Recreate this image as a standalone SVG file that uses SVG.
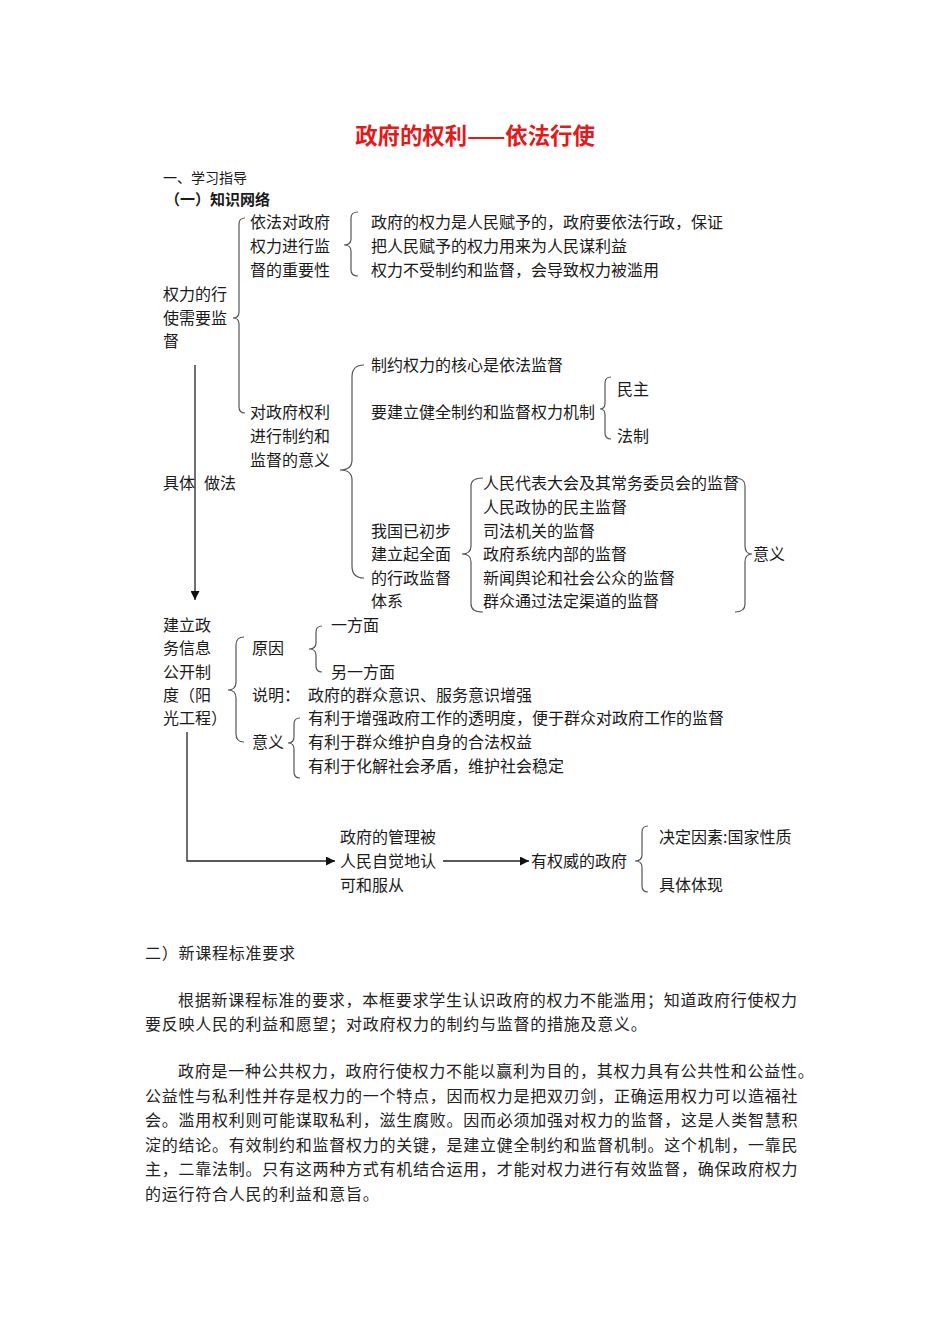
<svg xmlns="http://www.w3.org/2000/svg" width="950" height="1344" viewBox="0 0 950 1344">
<defs>
<marker id="arr" viewBox="0 0 10 10" refX="10" refY="5" markerWidth="9" markerHeight="9" markerUnits="userSpaceOnUse" orient="auto">
<path d="M0,0 L10,5 L0,10 z" fill="#111"/>
</marker>
</defs>
<style>
text{font-family:"Noto Sans CJK SC","Noto Sans CJK JP",sans-serif;fill:#1a1a1a}
.t{font-size:16px}
.p{font-size:16px;letter-spacing:0.75px;fill:#222}
.br{fill:none;stroke:#555;stroke-width:1.2}
.ln{fill:none;stroke:#222;stroke-width:1.3}
</style>
<rect width="950" height="1344" fill="#fff"/>
<g id="title"><text x="475" y="144" font-size="22.4" font-weight="bold" style="fill:#e31a1c" text-anchor="middle">政府的权利——依法行使</text></g>
<g id="heading1"><text x="163" y="183" font-size="14">一、学习指导</text></g>
<g id="heading2"><text x="165" y="205" font-size="15" font-weight="bold">（一）知识网络</text></g>

<g id="n-root">
<text class="t" x="163" y="300">权力的行</text>
<text class="t" x="163" y="324">使需要监</text>
<text class="t" x="163" y="347">督</text>
<path class="br" d="M245 218 Q239 218 239 224 L239 312 Q239 318 233 318 Q239 318 239 324 L239 407 Q239 413 245 413"/>
</g>
<g id="n-importance">
<text class="t" x="250" y="228">依法对政府</text>
<text class="t" x="250" y="252">权力进行监</text>
<text class="t" x="250" y="276">督的重要性</text>
<path class="br" d="M358 212 Q351 212 351 218 L351 239 Q351 245 344 245 Q351 245 351 251 L351 270 Q351 276 358 276"/>
</g>
<g id="n-importance-items">
<text class="t" x="371" y="228">政府的权力是人民赋予的，政府要依法行政，保证</text>
<text class="t" x="371" y="252">把人民赋予的权力用来为人民谋利益</text>
<text class="t" x="371" y="276">权力不受制约和监督，会导致权力被滥用</text>
</g>
<g id="n-meaning">
<text class="t" x="250" y="418">对政府权利</text>
<text class="t" x="250" y="442">进行制约和</text>
<text class="t" x="250" y="466">监督的意义</text>
<path class="br" d="M364 365 Q352 365 352 377 L352 460 Q352 470 340 470 Q352 470 352 480 L352 566 Q352 578 364 578"/>
</g>
<g id="n-core"><text class="t" x="371" y="371">制约权力的核心是依法监督</text></g>
<g id="n-mechanism">
<text class="t" x="371" y="418">要建立健全制约和监督权力机制</text>
<path class="br" d="M611 377 Q605 377 605 383 L605 403 Q605 409 600 409 Q605 409 605 415 L605 433 Q605 439 611 439"/>
<text class="t" x="617" y="395">民主</text>
<text class="t" x="617" y="442">法制</text>
</g>
<g id="n-practice">
<text class="t" x="163" y="489">具体</text>
<text class="t" x="204" y="489">做法</text>
</g>
<g id="n-system">
<text class="t" x="371" y="537">我国已初步</text>
<text class="t" x="371" y="560">建立起全面</text>
<text class="t" x="371" y="584">的行政监督</text>
<text class="t" x="371" y="607">体系</text>
<path class="br" d="M483 478 Q471 478 471 486 L471 546 Q471 554 462 554 Q471 554 471 562 L471 604 Q471 612 483 612"/>
</g>
<g id="n-system-items">
<text class="t" x="483" y="489">人民代表大会及其常务委员会的监督</text>
<text class="t" x="483" y="513">人民政协的民主监督</text>
<text class="t" x="483" y="537">司法机关的监督</text>
<text class="t" x="483" y="560">政府系统内部的监督</text>
<text class="t" x="483" y="584">新闻舆论和社会公众的监督</text>
<text class="t" x="483" y="607">群众通过法定渠道的监督</text>
<path class="br" d="M735 478 Q745 478 745 486 L745 546 Q745 554 752 554 Q745 554 745 562 L745 604 Q745 612 735 612"/>
</g>
<g id="n-system-meaning"><text class="t" x="753" y="560">意义</text></g>

<g id="n-openness">
<text class="t" x="163" y="631">建立政</text>
<text class="t" x="163" y="654">务信息</text>
<text class="t" x="163" y="678">公开制</text>
<text class="t" x="163" y="701">度（阳</text>
<text class="t" x="163" y="724">光工程）</text>
<path class="br" d="M244 637 Q236 637 236 645 L236 682 Q236 690 228 690 Q236 690 236 698 L236 734 Q236 742 244 742"/>
</g>
<g id="n-reason">
<text class="t" x="252" y="654">原因</text>
<path class="br" d="M322 626 Q316 626 316 632 L316 643 Q316 649 309 649 Q316 649 316 655 L316 666 Q316 672 322 672"/>
<text class="t" x="331" y="631">一方面</text>
<text class="t" x="331" y="678">另一方面</text>
</g>
<g id="n-explain">
<text class="t" x="252" y="701">说明：</text>
<text class="t" x="308" y="701">政府的群众意识、服务意识增强</text>
</g>
<g id="n-open-meaning">
<text class="t" x="252" y="748">意义</text>
<path class="br" d="M300 718 Q294 718 294 724 L294 737 Q294 743 288 743 Q294 743 294 749 L294 772 Q294 778 300 778"/>
<text class="t" x="308" y="724">有利于增强政府工作的透明度，便于群众对政府工作的监督</text>
<text class="t" x="308" y="748">有利于群众维护自身的合法权益</text>
<text class="t" x="308" y="772">有利于化解社会矛盾，维护社会稳定</text>
</g>
<g id="n-accept">
<text class="t" x="340" y="843">政府的管理被</text>
<text class="t" x="340" y="867">人民自觉地认</text>
<text class="t" x="340" y="891">可和服从</text>
</g>
<g id="n-authority">
<text class="t" x="531" y="867">有权威的政府</text>
<path class="br" d="M648 826 Q642 826 642 832 L642 855 Q642 861 635 861 Q642 861 642 867 L642 886 Q642 892 648 892"/>
<text class="t" x="659" y="843">决定因素:国家性质</text>
<text class="t" x="659" y="891">具体体现</text>
</g>

<g id="connectors">
<path class="ln" d="M195 365 V600" marker-end="url(#arr)"/>
<path class="ln" d="M187 732 V861 H335" marker-end="url(#arr)"/>
<path class="ln" d="M443 861 H529" marker-end="url(#arr)"/>
</g>

<g id="body">
<text class="p" x="145" y="959">二）新课程标准要求</text>
<text class="p" x="178" y="1006">根据新课程标准的要求，本框要求学生认识政府的权力不能滥用；知道政府行使权力</text>
<text class="p" x="145" y="1030">要反映人民的利益和愿望；对政府权力的制约与监督的措施及意义。</text>
<text class="p" x="178" y="1077">政府是一种公共权力，政府行使权力不能以赢利为目的，其权力具有公共性和公益性。</text>
<text class="p" x="145" y="1102">公益性与私利性并存是权力的一个特点，因而权力是把双刃剑，正确运用权力可以造福社</text>
<text class="p" x="145" y="1126">会。滥用权利则可能谋取私利，滋生腐败。因而必须加强对权力的监督，这是人类智慧积</text>
<text class="p" x="145" y="1151">淀的结论。有效制约和监督权力的关键，是建立健全制约和监督机制。这个机制，一靠民</text>
<text class="p" x="145" y="1175">主，二靠法制。只有这两种方式有机结合运用，才能对权力进行有效监督，确保政府权力</text>
<text class="p" x="145" y="1200">的运行符合人民的利益和意旨。</text>
</g>
</svg>
